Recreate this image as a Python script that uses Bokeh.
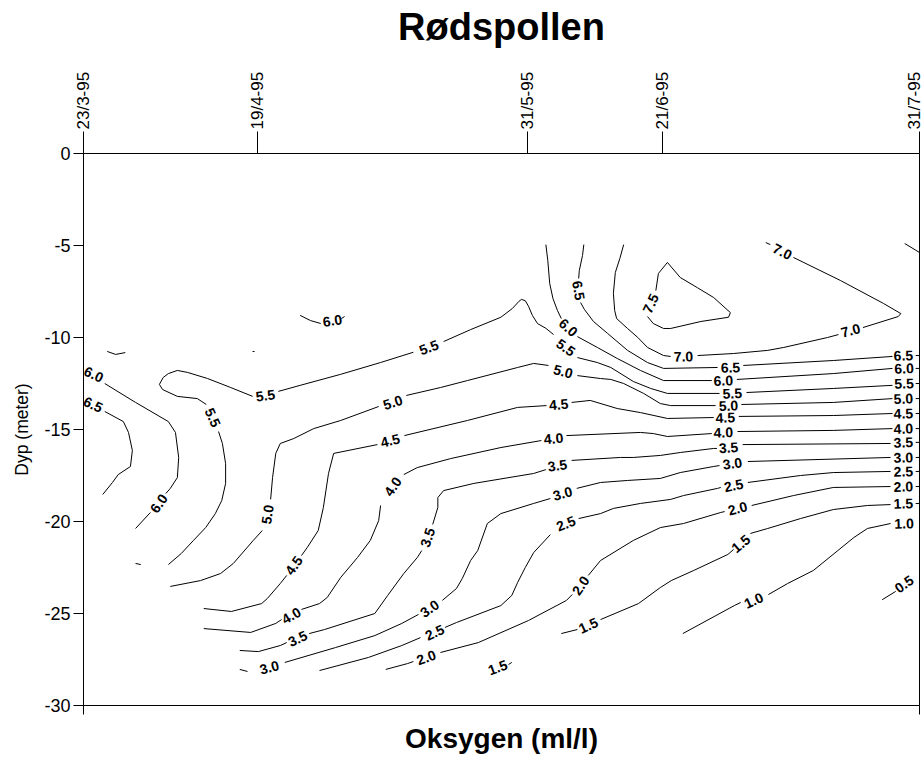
from bokeh.plotting import figure
from bokeh.models import Range1d, LinearAxis, FixedTicker
from bokeh.embed import file_html
from bokeh.resources import INLINE
from bokeh.core.properties import value

FONT = "Liberation Sans"

# ---- axes data ----
date_days = [0, 27, 69, 90, 130]          # days after 23/3-95
date_labels = ["23/3-95", "19/4-95", "31/5-95", "21/6-95", "31/7-95"]
depth_ticks = [0, -5, -10, -15, -20, -25, -30]
depth_labels = ["0", "-5", "-10", "-15", "-20", "-25", "-30"]

# ---- traced contour pieces: (day, depth) ----
seg_75 = [
    [(89.0, -7.45), (89.4, -6.52), (90.8, -5.92), (92.8, -6.74), (95.5, -7.3), (98.0, -7.83),
     (100.6, -8.65), (100.3, -8.9), (96.0, -9.13), (91.3, -9.51), (90.2, -9.51), (88.6, -9.24), (87.7, -8.86)],
    [(127.7, -4.89), (130.0, -5.38)],
]
seg_70 = [
    [(84.0, -4.95), (83.4, -5.71), (82.7, -6.47), (82.4, -7.6), (82.6, -8.53), (82.9, -8.97), (84.6, -9.51),
     (86.2, -10.0), (87.7, -10.54), (90.2, -10.98), (91.3, -11.03)],
    [(95.5, -10.98), (101.1, -10.87), (106.4, -10.7), (108.9, -10.54), (115.7, -10.0), (117.4, -9.84)],
    [(121.2, -9.46), (126.7, -8.86), (127.1, -8.7), (124.4, -8.15), (117.7, -6.9), (110.4, -5.65)],
    [(106.1, -4.84), (106.8, -4.95)],
]
seg_65 = [
    [(3.3, -14.02), (6.2, -14.57), (7.0, -15.16), (7.6, -16.14), (7.3, -17.01), (5.4, -17.45), (4.5, -17.88), (3.0, -18.53)],
    [(77.8, -4.95), (77.6, -5.54), (77.1, -6.36), (77.0, -6.79)],
    [(77.3, -8.1), (77.9, -8.48), (79.3, -9.13), (81.5, -9.78), (84.6, -10.7), (87.7, -11.36), (90.2, -11.68), (98.6, -11.63)],
    [(102.6, -11.52), (116.6, -11.25), (125.8, -11.03)],
    [(129.4, -10.98), (130.0, -10.98)],
]
seg_60 = [
    [(3.3, -12.5), (8.1, -13.53), (13.2, -14.57), (14.3, -15.16), (14.8, -16.52), (14.6, -17.61), (13.5, -18.2), (12.8, -18.48)],
    [(10.4, -19.51), (8.1, -20.38)],
    [(8.1, -22.28), (8.9, -22.34)],
    [(3.7, -10.76), (5.0, -10.92), (6.5, -10.82)],
    [(33.7, -8.8), (35.3, -9.08), (36.9, -9.24)],
    [(40.1, -8.97), (40.6, -8.86)],
    [(26.3, -10.76), (26.6, -10.76)],
    [(71.9, -4.95), (72.2, -5.82), (72.5, -7.07), (73.0, -7.88), (73.7, -8.53), (74.3, -8.97)],
    [(76.8, -9.95), (79.9, -10.54), (83.0, -11.14), (86.6, -11.79), (90.2, -12.34), (97.7, -12.34)],
    [(101.6, -12.28), (116.6, -11.96), (125.8, -11.68)],
    [(129.4, -11.68), (130.0, -11.68)],
]
seg_55 = [
    [(13.2, -22.34), (15.2, -21.74), (17.1, -21.03), (19.0, -20.33), (20.5, -19.57), (21.5, -18.86), (22.1, -17.93),
     (22.1, -16.85), (21.6, -15.76), (21.0, -15.11)],
    [(19.1, -13.64), (17.7, -13.32), (14.6, -13.2), (12.3, -12.83), (11.8, -12.55), (12.4, -12.17), (13.2, -11.96),
     (14.6, -11.79), (16.2, -11.9), (19.3, -12.23), (22.9, -12.72), (26.3, -13.2)],
    [(30.3, -12.93), (33.7, -12.6), (40.0, -12.0), (46.2, -11.36), (51.3, -10.8)],
    [(56.0, -10.22), (60.2, -9.57), (64.9, -8.9), (66.7, -8.42), (67.7, -8.04), (68.1, -7.93), (68.7, -8.0),
     (69.2, -8.3), (69.8, -8.8), (70.6, -9.24), (71.9, -9.5), (73.1, -9.84)],
    [(76.8, -11.09), (79.9, -11.36), (82.0, -11.63), (85.5, -12.39), (88.2, -12.77), (90.8, -13.04), (98.9, -13.04)],
    [(103.1, -12.99), (116.6, -12.77), (125.8, -12.6)],
    [(129.4, -12.5), (130.0, -12.5)],
]
seg_50 = [
    [(13.5, -23.53), (18.2, -23.21), (21.3, -22.83), (23.3, -22.28), (26.4, -21.03), (27.8, -20.49)],
    [(29.1, -18.8), (29.4, -17.61), (29.9, -16.3), (30.6, -15.76), (32.7, -15.49), (35.8, -14.95), (40.0, -14.51), (45.9, -13.75)],
    [(50.2, -13.15), (55.5, -12.72), (59.7, -12.34), (67.5, -11.63), (70.0, -11.41), (72.3, -11.52)],
    [(76.8, -12.07), (80.4, -12.23), (82.0, -12.28), (84.0, -12.5), (87.1, -13.04), (89.7, -13.59), (91.3, -13.7), (98.3, -13.7)],
    [(102.3, -13.64), (116.6, -13.53), (125.8, -13.32)],
    [(129.4, -13.32), (130.0, -13.32)],
]
seg_45 = [
    [(18.7, -24.73), (23.0, -24.89), (27.7, -24.46), (28.6, -24.18), (30.6, -23.37), (31.6, -22.93)],
    [(33.9, -21.85), (34.8, -21.41), (36.5, -20.49), (37.3, -19.24), (38.1, -17.39), (38.9, -16.3), (45.7, -15.82)],
    [(49.9, -15.33), (59.7, -14.51), (67.5, -13.8), (72.0, -13.7)],
    [(75.9, -13.53), (78.8, -13.42), (83.0, -13.86), (86.6, -14.08), (90.8, -14.4), (98.0, -14.35)],
    [(101.9, -14.29), (116.6, -14.24), (125.8, -14.13)],
    [(129.4, -14.13), (130.0, -14.13)],
]
seg_40 = [
    [(18.7, -25.82), (26.0, -26.03), (29.9, -25.54), (30.8, -25.33)],
    [(33.9, -24.78), (36.7, -24.46), (37.9, -24.13), (40.0, -23.04), (42.6, -21.96), (44.6, -21.03), (45.9, -19.95), (46.2, -19.13)],
    [(49.8, -17.45), (51.9, -17.07), (57.1, -16.58), (64.9, -15.98), (71.2, -15.6)],
    [(75.1, -15.33), (86.6, -15.16), (88.6, -15.22), (90.8, -15.38), (97.7, -15.22)],
    [(101.7, -15.11), (116.6, -15.05), (125.8, -14.95)],
    [(129.4, -14.95), (130.0, -14.95)],
]
seg_35 = [
    [(24.3, -27.01), (27.2, -27.07), (30.6, -26.74), (31.6, -26.58)],
    [(35.1, -26.09), (37.5, -25.87), (45.3, -25.0), (47.3, -24.02), (49.8, -22.83), (51.9, -21.96), (52.6, -21.58)],
    [(54.3, -20.16), (55.1, -19.24), (55.1, -18.7), (56.0, -18.32), (60.7, -17.93), (70.0, -17.39), (71.9, -17.18)],
    [(75.9, -16.68), (83.5, -16.52), (85.5, -16.52), (89.7, -16.41), (92.8, -16.25), (98.0, -16.03), (98.5, -16.03)],
    [(102.5, -15.82), (125.5, -15.76)],
    [(129.4, -15.7), (130.0, -15.7)],
]
seg_30 = [
    [(24.3, -28.04), (25.5, -28.15)],
    [(31.3, -27.66), (39.2, -26.85), (45.3, -26.2), (49.5, -25.54), (52.1, -25.05)],
    [(55.8, -24.29), (58.0, -23.64), (58.9, -23.1), (60.2, -22.12), (61.3, -21.58), (62.8, -20.11), (64.9, -19.57),
     (70.0, -19.02), (72.6, -18.75)],
    [(76.7, -18.2), (80.4, -17.88), (84.6, -17.77), (89.7, -17.66), (92.8, -17.34), (98.0, -17.01), (98.9, -16.96)],
    [(103.3, -16.74), (125.5, -16.52)],
    [(129.4, -16.52), (130.0, -16.52)],
]
seg_25 = [
    [(36.7, -28.1), (44.3, -27.39), (49.5, -26.74), (52.4, -26.31)],
    [(56.2, -25.76), (58.0, -25.49), (64.9, -24.57), (66.6, -24.02), (67.5, -23.32), (68.7, -22.5), (70.0, -21.69), (72.6, -20.71)],
    [(77.0, -19.84), (80.4, -19.57), (82.4, -19.29), (86.6, -19.02), (91.3, -18.8), (93.3, -18.59), (98.6, -18.2), (99.1, -18.15)],
    [(103.3, -17.88), (111.5, -17.5), (116.6, -17.34), (125.5, -17.28)],
    [(129.4, -17.28), (130.0, -17.28)],
]
seg_20 = [
    [(47.0, -28.04), (50.4, -27.72), (51.3, -27.61)],
    [(55.5, -27.12), (61.4, -26.58), (69.2, -25.38), (75.1, -24.29), (76.0, -23.97)],
    [(78.5, -22.93), (80.4, -22.12), (85.5, -21.03), (89.7, -20.33), (93.3, -20.11), (99.1, -19.51), (99.7, -19.46)],
    [(103.9, -19.13), (110.4, -18.59), (116.6, -18.15), (125.5, -18.1)],
    [(129.4, -18.1), (130.0, -18.1)],
]
seg_15 = [
    [(74.3, -26.09), (76.8, -25.87)],
    [(80.4, -25.33), (86.3, -24.46), (89.7, -23.59), (91.4, -23.21), (94.9, -22.66), (100.2, -21.79), (101.1, -21.52)],
    [(103.7, -20.65), (106.4, -20.38), (111.5, -19.84), (116.6, -19.35), (121.9, -19.13), (125.5, -19.08)],
    [(66.1, -27.77), (66.6, -27.66)],
    [(129.4, -19.02), (130.0, -19.02)],
]
seg_10 = [
    [(93.2, -26.09), (101.2, -24.57), (102.2, -24.4)],
    [(106.5, -23.97), (109.5, -23.37), (113.5, -22.66), (117.3, -21.58), (119.8, -20.87), (121.9, -20.38), (125.5, -20.11)],
]
seg_05 = [
    [(124.2, -24.25), (126.3, -23.8)],
]

# ---- contour labels ----
label_text = ["7.5", "7.0", "7.0", "7.0",
              "6.5", "6.5", "6.5", "6.5",
              "6.0", "6.0", "6.0", "6.0", "6.0", "6.0",
              "5.5", "5.5", "5.5", "5.5", "5.5", "5.5",
              "5.0", "5.0", "5.0", "5.0", "5.0",
              "4.5", "4.5", "4.5", "4.5", "4.5",
              "4.0", "4.0", "4.0", "4.0", "4.0",
              "3.5", "3.5", "3.5", "3.5", "3.5",
              "3.0", "3.0", "3.0", "3.0", "3.0",
              "2.5", "2.5", "2.5", "2.5",
              "2.0", "2.0", "2.0", "2.0",
              "1.5", "1.5", "1.5", "1.5",
              "1.0", "1.0", "0.5"]
label_day = [88.2, 93.3, 119.3, 108.7,
             1.5, 77.0, 100.6, 127.5,
             1.6, 11.7, 38.7, 75.4, 99.5, 127.6,
             20.1, 28.3, 53.7, 75.0, 100.9, 127.6,
             28.6, 48.1, 74.6, 100.3, 127.5,
             32.7, 47.7, 73.9, 99.8, 127.5,
             32.3, 48.1, 73.1, 99.5, 127.5,
             33.3, 53.5, 73.7, 100.3, 127.5,
             28.9, 53.8, 74.5, 100.9, 127.5,
             54.6, 75.0, 101.1, 127.5,
             53.3, 77.3, 101.7, 127.5,
             78.5, 102.2, 127.5, 64.4,
             104.2, 127.6, 127.6]
label_depth = [-8.15, -11.03, -9.62, -5.33,
               -13.64, -7.45, -11.63, -10.98,
               -12.0, -19.02, -9.08, -9.46, -12.34, -11.68,
               -14.35, -13.15, -10.54, -10.54, -13.04, -12.5,
               -19.62, -13.53, -11.85, -13.7, -13.32,
               -22.39, -15.6, -13.64, -14.35, -14.13,
               -25.11, -18.1, -15.49, -15.16, -14.95,
               -26.36, -20.87, -16.96, -15.98, -15.7,
               -27.93, -24.73, -18.48, -16.85, -16.52,
               -26.03, -20.11, -18.04, -17.28,
               -27.39, -23.48, -19.29, -18.1,
               -25.65, -21.2, -19.02, -27.93,
               -24.29, -20.11, -23.4]
label_angle = [65, 2, 15, -26,
               -25, -80, 2, 2,
               -25, 55, 8, -42, 2, 2,
               -66, 8, 21, -35, 2, 2,
               82, 18, -15, 2, 2,
               55, 14, 5, 2, 2,
               30, 55, 5, 2, 2,
               25, 72, 8, 4, 2,
               15, 35, 15, 8, 2,
               25, 22, 12, 2,
               20, 55, 15, 2,
               25, 40, 2, 20,
               25, 2, 35]

all_levels = [seg_75, seg_70, seg_65, seg_60, seg_55, seg_50, seg_45, seg_40,
              seg_35, seg_30, seg_25, seg_20, seg_15, seg_10, seg_05]

p = figure(width=923, height=757, output_backend="svg", toolbar_location=None,
           x_range=Range1d(0, 130), y_range=Range1d(-30, 0),
           x_axis_location=None, y_axis_location=None, title_location=None,
           min_border_left=83, min_border_right=4, min_border_top=153, min_border_bottom=52)
p.grid.visible = False
p.outline_line_color = "black"
p.outline_line_width = 1
p.background_fill_color = "white"
p.border_fill_color = "white"

# left axis
yax = LinearAxis(ticker=FixedTicker(ticks=depth_ticks), axis_label="Dyp (meter)",
                 major_label_overrides={t: s for t, s in zip(depth_ticks, depth_labels)})
yax.major_tick_out = 10
yax.major_tick_in = 0
yax.minor_tick_out = 0
yax.minor_tick_in = 0
yax.major_label_standoff = 3
yax.major_label_text_font = FONT
yax.major_label_text_font_size = "18px"
yax.major_label_text_color = "black"
yax.axis_label_text_font = FONT
yax.axis_label_text_font_size = "17.5px"
yax.axis_label_text_font_style = "normal"
yax.axis_label_text_color = "black"
yax.axis_label_standoff = 9
yax.axis_line_color = "black"
yax.major_tick_line_color = "black"
p.add_layout(yax, "left")

# top axis with dates, chart title as its label
tax = LinearAxis(ticker=FixedTicker(ticks=date_days),
                 major_label_overrides={d: s for d, s in zip(date_days, date_labels)},
                 axis_label="Rødspollen")
tax.major_label_orientation = "vertical"
tax.major_tick_out = 22
tax.major_tick_in = 0
tax.minor_tick_out = 0
tax.minor_tick_in = 0
tax.major_label_standoff = 2
tax.major_label_text_font = FONT
tax.major_label_text_font_size = "17px"
tax.major_label_text_color = "black"
tax.axis_label_text_font = FONT
tax.axis_label_text_font_size = "38px"
tax.axis_label_text_font_style = "bold"
tax.axis_label_text_color = "black"
tax.axis_label_standoff = 21
tax.axis_line_color = "black"
tax.major_tick_line_color = "black"
p.add_layout(tax, "above")

# bottom axis
bax = LinearAxis(ticker=FixedTicker(ticks=[date_days[0], date_days[-1]]),
                 major_label_overrides={date_days[0]: "", date_days[-1]: ""},
                 axis_label="Oksygen (ml/l)")
bax.major_tick_out = 9
bax.major_tick_in = 0
bax.minor_tick_out = 0
bax.minor_tick_in = 0
bax.major_label_standoff = 0
bax.major_label_text_font_size = "1px"
bax.axis_label_text_font = FONT
bax.axis_label_text_font_size = "28px"
bax.axis_label_text_font_style = "bold"
bax.axis_label_text_color = "black"
bax.axis_label_standoff = 8
bax.axis_line_color = "black"
bax.major_tick_line_color = "black"
p.add_layout(bax, "below")

xs, ys = [], []
for segs in all_levels:
    for s in segs:
        xs.append([pt[0] for pt in s])
        ys.append([pt[1] for pt in s])
p.multi_line(xs, ys, line_color="black", line_width=1)

p.text(x=label_day, y=label_depth, text=label_text, angle=label_angle, angle_units="deg",
       text_align="center", text_baseline="middle", text_font=value(FONT),
       text_font_style="bold", text_font_size="14px", text_color="black")

open("out.html", "w").write(file_html(p, INLINE))
